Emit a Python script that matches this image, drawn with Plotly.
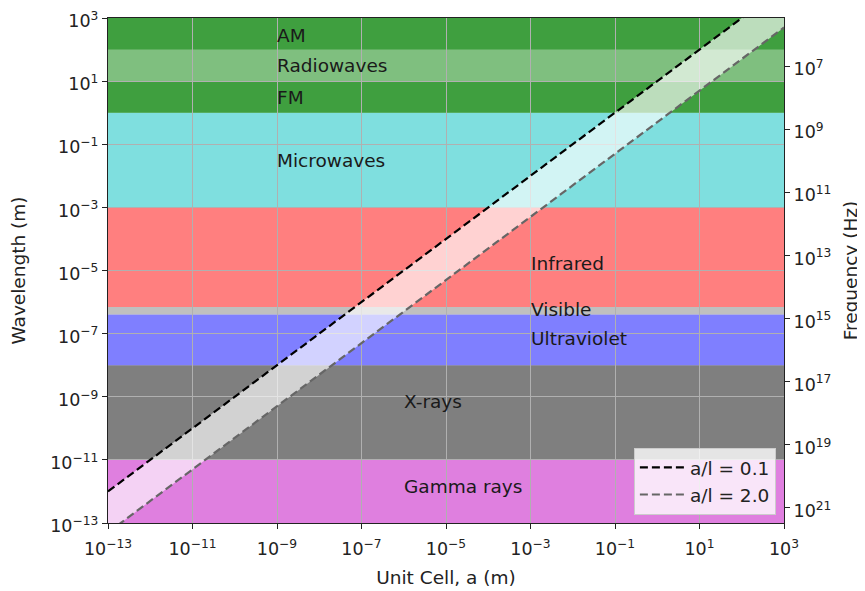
import numpy as np
import plotly.graph_objects as go

# ---- data ----
band_names = ["Gamma rays", "X-rays", "Ultraviolet", "Visible", "Infrared", "Microwaves", "Radiowaves", "FM", "AM"]
band_low = [1e-13, 1e-11, 1e-8, 4e-7, 7e-7, 1e-3, 1, 1, 100]
band_high = [1e-11, 1e-8, 4e-7, 7e-7, 1e-3, 1, 1000, 10, 1000]
band_colors = ["rgba(191,0,191,0.5)", "rgba(0,0,0,0.5)", "rgba(0,0,255,0.5)", "rgba(128,128,128,0.5)",
               "rgba(255,0,0,0.5)", "rgba(0,191,191,0.5)", "rgba(0,128,0,0.5)", "rgba(0,128,0,0.5)",
               "rgba(0,128,0,0.5)"]

label_text = ["AM", "Radiowaves", "FM", "Microwaves", "Infrared", "Visible", "Ultraviolet", "X-rays", "Gamma rays"]
label_x = [1e-9, 1e-9, 1e-9, 1e-9, 1e-3, 1e-3, 1e-3, 1e-6, 1e-6]
label_y = [10**2.46, 10**1.51, 10**0.47, 10**-1.5, 10**-4.79, 10**-6.22, 10**-7.14, 10**-9.14, 10**-11.83]

ratios = [0.1, 2.0]
ratio_colors = ["black", "#666666"]
a_vals = np.array([1e-13, 1e3])

tick_exp = [-13, -11, -9, -7, -5, -3, -1, 1, 3]
freq_exp = [7, 9, 11, 13, 15, 17, 19, 21]
c_light = 3e8


def sup(e):
    s = str(e).replace("-", "\u2212")
    return f"10<sup>{s}</sup>"


fig = go.Figure()

shapes = []
for lo, hi, col in zip(band_low, band_high, band_colors):
    shapes.append(dict(type="rect", xref="paper", yref="y", x0=0, x1=1,
                       y0=lo, y1=hi, fillcolor=col,
                       line=dict(width=0), layer="below"))

# fill between the two ratio lines
l_upper = a_vals / ratios[0]
l_lower = a_vals / ratios[1]
fig.add_trace(go.Scatter(x=a_vals, y=l_upper, mode="lines", line=dict(width=0),
                         showlegend=False, hoverinfo="skip"))
fig.add_trace(go.Scatter(x=a_vals, y=l_lower, mode="lines", line=dict(width=0),
                         fill="tonexty", fillcolor="rgba(255,255,255,0.65)",
                         showlegend=False, hoverinfo="skip"))

for r, col in zip(ratios, ratio_colors):
    fig.add_trace(go.Scatter(x=a_vals, y=a_vals / r, mode="lines",
                             line=dict(color=col, width=2.2, dash="8px,4px"),
                             name=f"a/l = {r}"))

annotations = []
for t, x, y in zip(label_text, label_x, label_y):
    annotations.append(dict(x=np.log10(x), y=np.log10(y), xref="x", yref="y", text=t,
                            showarrow=False, xanchor="left", yanchor="middle", xshift=-2,
                            font=dict(size=18.5, color="#1a1a1a")))

# invisible trace for the frequency axis
fig.add_trace(go.Scatter(x=[1e-13, 1e3], y=[c_light / 1e-13, c_light / 1e3], yaxis="y2",
                         mode="markers", marker=dict(opacity=0), showlegend=False,
                         hoverinfo="skip"))

axis_common = dict(showline=True, linecolor="#222222", linewidth=1.3, mirror=True,
                   ticks="outside", ticklen=5, tickcolor="#222222", automargin=False,
                   ticklabeloverflow="allow",
                   tickfont=dict(size=17.5, color="#222222"), zeroline=False)

fig.update_layout(
    width=865, height=591,
    margin=dict(l=100, r=89, t=10, b=76),
    paper_bgcolor="white", plot_bgcolor="white",
    font=dict(family="DejaVu Sans", size=18.5, color="#222222"),
    shapes=shapes,
    annotations=annotations,
    xaxis=dict(type="log", range=[-13, 3], tickvals=[10.0**e for e in tick_exp],
               ticktext=[sup(e) for e in tick_exp], showgrid=True, gridcolor="#b0b0b0",
               gridwidth=1, ticklabelstandoff=5,
               title=dict(text="Unit Cell, a (m)", font=dict(size=18.5), standoff=12),
               **axis_common),
    yaxis=dict(type="log", range=[-13, 3], tickvals=[10.0**e for e in tick_exp],
               ticktext=[sup(e) for e in tick_exp], showgrid=True, gridcolor="#b0b0b0",
               gridwidth=1, ticklabelshift=3,
               title=dict(text="Wavelength (m)", font=dict(size=18.5), standoff=20),
               **axis_common),
    yaxis2=dict(type="log", overlaying="y", side="right", automargin=False,
                ticklabeloverflow="allow", ticklabelshift=-3,
                range=[np.log10(c_light / 1e-13), np.log10(c_light / 1e3)],
                tickvals=[10.0**e for e in freq_exp], ticktext=[sup(e) for e in freq_exp],
                showgrid=False, ticks="outside", ticklen=5, tickcolor="#222222",
                tickfont=dict(size=17.5, color="#222222"), zeroline=False,
                title=dict(text="Frequency (Hz)", font=dict(size=18.5), standoff=13)),
    legend=dict(x=0.988, y=0.016, xanchor="right", yanchor="bottom", traceorder="normal",
                bgcolor="rgba(255,255,255,0.8)", bordercolor="#cccccc", borderwidth=1,
                itemwidth=45, font=dict(size=18.5)),
)

fig.write_html("out.html")
